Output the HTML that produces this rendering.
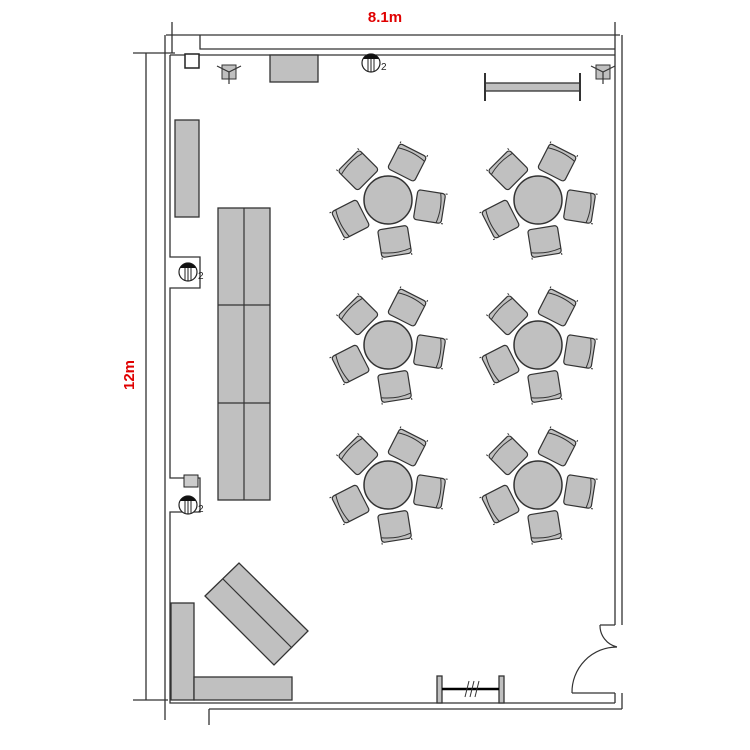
<!DOCTYPE html>
<html><head><meta charset="utf-8"><style>body{margin:0;background:#fff}svg{display:block}</style></head>
<body>
<svg width="750" height="750" viewBox="0 0 750 750" xmlns="http://www.w3.org/2000/svg">
<defs>
<g id="chair">
<rect x="-14" y="-15" width="28" height="30" rx="3" fill="#c0c0c0" stroke="#333" stroke-width="1.2"/>
<path d="M9,-15 Q13,0 9,15" fill="none" stroke="#333" stroke-width="1"/>
<line x1="14" y1="-15" x2="16" y2="-15" stroke="#333"/>
<line x1="14" y1="15" x2="16" y2="15" stroke="#333"/>
</g>
<g id="tbl">
<g transform="rotate(-135) translate(42,0)"><use href="#chair"/></g>
<g transform="rotate(-63) translate(42,0)"><use href="#chair"/></g>
<g transform="rotate(9) translate(42,0)"><use href="#chair"/></g>
<g transform="rotate(81) translate(42,0)"><use href="#chair"/></g>
<g transform="rotate(153) translate(42,0)"><use href="#chair"/></g>
<circle r="24" fill="#c0c0c0" stroke="#333" stroke-width="1.5"/>
</g>
<g id="outlet">
<circle r="9" fill="#fff" stroke="#222" stroke-width="1.2"/>
<path d="M-8,-4 A9,9 0 0 1 8,-4 Z" fill="#111"/>
<line x1="-3" y1="-4" x2="-3" y2="8" stroke="#222"/>
<line x1="0" y1="-4" x2="0" y2="9" stroke="#222"/>
<line x1="3" y1="-4" x2="3" y2="8" stroke="#222"/>
<text x="10" y="7" font-family="Liberation Sans, sans-serif" font-size="10" fill="#222">2</text>
</g>
<g id="lamp">
<rect x="-7" y="-7" width="14" height="14" fill="#c0c0c0" stroke="#333"/>
<path d="M-12,-6 L0,0 L12,-6 M0,0 L0,12" stroke="#333" stroke-width="1.2" fill="none"/>
</g>
</defs>
<g stroke="#333" stroke-width="1.3" fill="none">
<line x1="172" y1="22" x2="172" y2="53"/>
<line x1="615" y1="22" x2="615" y2="49"/>
<line x1="133" y1="53" x2="175" y2="53"/>
<line x1="146" y1="53" x2="146" y2="700"/>
<line x1="133" y1="700" x2="168" y2="700"/>
<path d="M166,35 L620,35"/>
<path d="M200,35 L200,49 L615,49"/>
<path d="M170,55 L615,55"/>
<path d="M615,49 L615,625 M622,35 L622,625"/>
<path d="M615,693 L615,703 M622,693 L622,709"/>
<path d="M600,625 L615,625 M572,693 L615,693"/>
<path d="M165,35 L165,720"/>
<path d="M170,55 L170,257 L200,257 L200,288 L170,288 L170,478 L200,478 L200,512 L170,512 L170,703 L200,703"/>
<path d="M200,703 L615,703"/>
<path d="M209,709 L622,709 M209,709 L209,725"/>
</g>
<rect x="185" y="54" width="14" height="14" fill="#fff" stroke="#222" stroke-width="1.5"/>
<rect x="184" y="475" width="14" height="12" fill="#ccc" stroke="#222"/>
<path d="M572,693 A45,45 0 0 1 617,647" fill="none" stroke="#333" stroke-width="1.2"/>
<path d="M600,625 A22,22 0 0 0 617,647" fill="none" stroke="#333" stroke-width="1.2"/>
<g fill="#c0c0c0" stroke="#333" stroke-width="1.3">
<rect x="175" y="120" width="24" height="97"/>
<rect x="218" y="208" width="52" height="292"/>
<rect x="270" y="55" width="48" height="27"/>
<rect x="485" y="83" width="95" height="8"/>
<rect x="171" y="603" width="23" height="97"/>
<rect x="194" y="677" width="98" height="23"/>
<polygon points="205,596 239,563 308,631 274,665"/>
<rect x="437" y="676" width="5" height="27"/>
<rect x="499" y="676" width="5" height="27"/>
</g>
<g stroke="#333" stroke-width="1.2">
<line x1="244" y1="208" x2="244" y2="500"/>
<line x1="218" y1="305" x2="270" y2="305"/>
<line x1="218" y1="403" x2="270" y2="403"/>
<line x1="223" y1="579" x2="292" y2="648"/>
<line x1="485" y1="73" x2="485" y2="101" stroke-width="2"/>
<line x1="580" y1="73" x2="580" y2="101" stroke-width="2"/>
<line x1="442" y1="689" x2="499" y2="689" stroke="#000" stroke-width="2.5"/>
<path d="M465,697 L469,681 M470,697 L474,681 M475,697 L479,681" stroke-width="1"/>
</g>
<use href="#tbl" x="388" y="200"/>
<use href="#tbl" x="538" y="200"/>
<use href="#tbl" x="388" y="345"/>
<use href="#tbl" x="538" y="345"/>
<use href="#tbl" x="388" y="485"/>
<use href="#tbl" x="538" y="485"/>
<use href="#outlet" x="371" y="63"/>
<use href="#outlet" x="188" y="272"/>
<use href="#outlet" x="188" y="505"/>
<use href="#lamp" x="229" y="72"/>
<use href="#lamp" x="603" y="72"/>
<text x="385" y="22" text-anchor="middle" font-family="Liberation Sans, sans-serif" font-size="15" font-weight="bold" fill="#e00000">8.1m</text>
<text transform="translate(134,375) rotate(-90)" text-anchor="middle" font-family="Liberation Sans, sans-serif" font-size="15" font-weight="bold" fill="#e00000">12m</text>
</svg>
</body></html>
